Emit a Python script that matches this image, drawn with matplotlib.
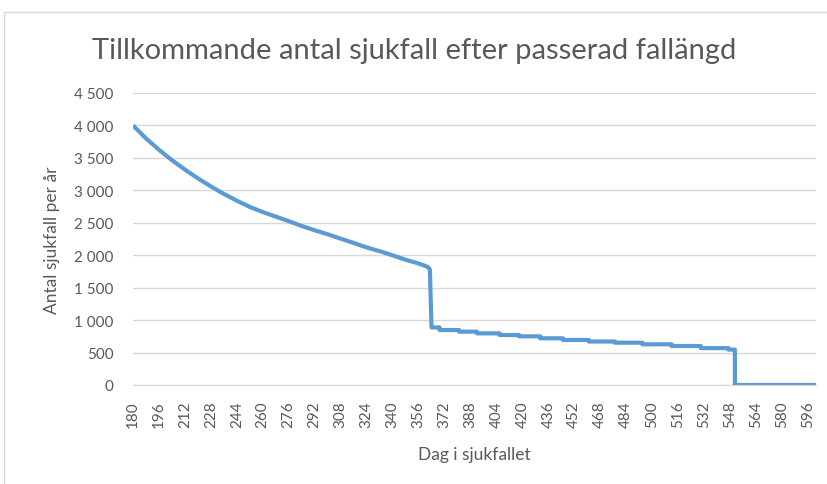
import numpy as np
import matplotlib
matplotlib.use("Agg")
import matplotlib.pyplot as plt
from matplotlib.patches import Rectangle
from matplotlib.ticker import FuncFormatter, FixedLocator

# Kurvdel (dag, antal)
curve_days = [180, 188, 196, 204, 212, 220, 228, 236, 244, 252, 260, 268, 276, 284, 292, 300,
              308, 316, 324, 333, 341, 349, 355, 360, 362, 363]
curve_vals = [4000, 3800, 3625, 3465, 3320, 3185, 3060, 2945, 2840, 2745, 2665, 2595, 2525, 2450,
              2385, 2323, 2255, 2189, 2120, 2055, 1990, 1923, 1880, 1837, 1815, 1780]

# Trappsteg efter fallet (startdag, antal)
step_days = [364, 369, 381, 392, 406, 418, 431, 445, 461, 477, 494, 512, 530, 547, 551]
step_vals = [887, 847, 822, 796, 770, 750, 720, 694, 670, 652, 627, 601, 568, 545, 0]
last_day = 601

tick_days = list(range(180, 597, 16))

# Bygg trappan
sx = []
sy = []
ends = step_days[1:] + [last_day]
for d, e, v in zip(step_days, ends, step_vals):
    sx += [d, e]
    sy += [v, v]

x = curve_days + sx
y = curve_vals + sy

plt.rcParams["font.family"] = ["Lato", "DejaVu Sans"]

fig = plt.figure(figsize=(8.28, 4.85), dpi=100)
ax = fig.add_axes([133 / 828, 1 - 386 / 485, (816 - 133) / 828, (386 - 94) / 485])

ax.plot(x, y, color="#5B9BD5", linewidth=3, solid_joinstyle="round", solid_capstyle="butt")

ax.set_xlim(180, last_day)
ax.set_ylim(0, 4500)
ax.yaxis.set_major_locator(FixedLocator(range(0, 4501, 500)))
ax.yaxis.set_major_formatter(FuncFormatter(lambda v, p: f"{int(v):,}".replace(",", " ")))
ax.set_xticks(tick_days)
ax.set_xticklabels([str(d) for d in tick_days], rotation=90)

ax.grid(axis="y", color="#d9d9d9", linewidth=1)
ax.set_axisbelow(True)
for s in ["top", "right", "left"]:
    ax.spines[s].set_visible(False)
ax.spines["bottom"].set_color("#d9d9d9")
ax.tick_params(length=0, colors="#595959", labelsize=11)
ax.tick_params(axis="y", pad=14)
ax.tick_params(axis="x", pad=11)

ax.set_xlabel("Dag i sjukfallet", fontsize=12.5, color="#595959", labelpad=14)
ax.set_ylabel("Antal sjukfall per år", fontsize=12.5, color="#595959", labelpad=10)
fig.text(0.5, 1 - 51 / 485, "Tillkommande antal sjukfall efter passerad fallängd",
         ha="center", va="center", fontsize=21, color="#595959")

# ram runt diagrammet
fig.patches.append(Rectangle((4.5 / 828, -0.1), 1.0, 1 - 12.5 / 485 + 0.1,
                             transform=fig.transFigure, fill=False,
                             edgecolor="#d9d9d9", linewidth=1))

fig.savefig("out.png", dpi=100)
